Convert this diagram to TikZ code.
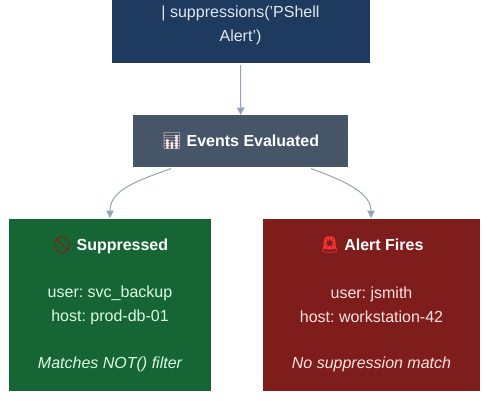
\documentclass[tikz,border=0pt]{standalone}
\usepackage{fontspec}
\setmainfont{Liberation Sans}
\newfontfamily\emojifont{Noto Emoji}
\usetikzlibrary{arrows.meta}
\definecolor{topfill}{HTML}{1E3A5F}
\definecolor{evfill}{HTML}{475569}
\definecolor{goodfill}{HTML}{166534}
\definecolor{badfill}{HTML}{7F1D1D}
\definecolor{edgecol}{HTML}{94A3B8}
\definecolor{soft}{HTML}{E2E8F0}
\definecolor{softgreen}{HTML}{DCFCE7}
\definecolor{softred}{HTML}{FEE2E2}
\tikzset{
  boxbase/.style={rectangle,inner sep=0pt,align=center,anchor=north west},
  labeltext/.style={inner sep=0pt,align=center,anchor=center,font=\fontsize{16pt}{24pt}\selectfont\frenchspacing},
  linkline/.style={draw=edgecol,line width=1pt,-{Triangle[length=7.5pt,width=7.5pt,fill=edgecol]}},
}
\begin{document}
\begin{tikzpicture}[x=1pt,y=-1pt]
\useasboundingbox (0,0) rectangle (489,400);
\node[boxbase,fill=topfill,minimum width=258pt,minimum height=63pt] (top) at (112,0) {};
\node[labeltext,text=soft] (toptext) at (240.5,25) {| suppressions('PShell\\Alert')};
\node[boxbase,fill=evfill,minimum width=215pt,minimum height=52pt] (events) at (133,115) {};
\node[labeltext,text=white,font=\fontsize{16pt}{24pt}\selectfont\bfseries] (eventstext) at (240.5,141) {{\emojifont\textcolor{softred}{📊}} Events Evaluated};
\node[boxbase,fill=goodfill,minimum width=202pt,minimum height=172pt] (supp) at (9,219) {};
\node[boxbase,fill=badfill,minimum width=217pt,minimum height=172pt] (alert) at (263,219) {};
\node[labeltext,text=white,font=\fontsize{16pt}{24pt}\selectfont\bfseries] (supphead) at (110,245) {{\emojifont\textcolor{red!70!black}{🚫}} Suppressed};
\node[labeltext,text=softgreen] (suppbody) at (110,305) {user: svc\_backup\\host: prod-db-01};
\node[labeltext,text=softgreen,font=\fontsize{16pt}{24pt}\selectfont\itshape] (suppnote) at (110,364.5) {Matches NOT() filter};
\node[labeltext,text=white,font=\fontsize{16pt}{24pt}\selectfont\bfseries] (alerthead) at (371.5,245) {{\emojifont\textcolor{red!80!white}{🚨}} Alert Fires};
\node[labeltext,text=softred] (alertbody) at (371.5,305) {user: jsmith\\host: workstation-42};
\node[labeltext,text=softred,font=\fontsize{16pt}{24pt}\selectfont\itshape] (alertnote) at (371.5,364.5) {No suppression match};
\coordinate (tl) at (240.5,65);
\coordinate (el) at (171,168.5);
\coordinate (er) at (311,168.5);
\coordinate (sl) at (110,218);
\coordinate (ar) at (371,218);
\draw[linkline] (tl) -- (events.north);
\draw[linkline] (el) .. controls (140,180) and (110,189) .. (sl);
\draw[linkline] (er) .. controls (342,180) and (371,192) .. (ar);
\end{tikzpicture}
\end{document}
